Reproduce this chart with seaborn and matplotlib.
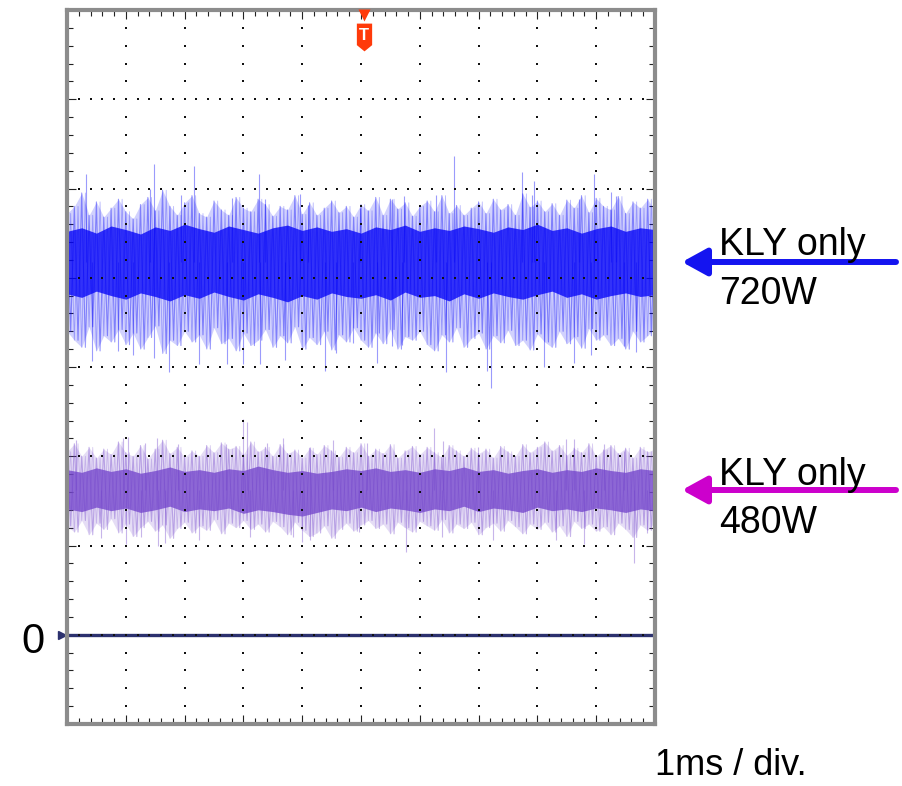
import numpy as np
import pandas as pd
import matplotlib
matplotlib.use("Agg")
import matplotlib.pyplot as plt
from matplotlib.ticker import MultipleLocator
from matplotlib.path import Path
import seaborn as sns

# ---- scope capture: 1 ms/div horizontally, levels in vertical divisions ----
sweep_ms = [0.0, 10.0]
zero_level = 0.0
trigger_ms = 5.05

# KLY only, 720 W trace: outer stroke extremes (81 samples across the sweep)
blue_top = [4.72, 4.80, 4.95, 4.70, 4.85, 4.68, 4.78, 4.88, 4.74,
            4.66, 4.82, 4.90, 4.75, 4.98, 4.80, 4.70, 4.84,
            4.92, 4.72, 4.68, 4.86, 4.76, 4.70, 4.90, 4.78,
            4.74, 4.88, 4.82, 4.69, 4.80, 4.76, 4.92, 4.71,
            4.84, 4.70, 4.78, 4.86, 4.73, 4.80, 4.68, 4.82,
            4.75, 4.90, 4.70, 4.88, 4.77, 4.84, 4.69, 4.80,
            4.86, 4.74, 4.92, 4.72, 4.81, 4.70, 4.78, 4.85,
            4.72, 4.88, 4.76, 4.82, 4.70, 4.94, 4.79, 4.86,
            4.74, 4.83, 4.70, 4.87, 4.78, 4.92, 4.73, 4.89,
            4.80, 4.76, 4.91, 4.72, 4.85, 4.78, 4.88, 4.74]
blue_bot = [3.40, 3.30, 3.22, 3.45, 3.18, 3.35, 3.28, 3.42, 3.25,
            3.38, 3.20, 3.33, 3.46, 3.15, 3.30, 3.24, 3.40,
            3.28, 3.36, 3.20, 3.44, 3.26, 3.32, 3.18, 3.38,
            3.24, 3.30, 3.42, 3.22, 3.35, 3.27, 3.45, 3.20,
            3.33, 3.25, 3.40, 3.19, 3.36, 3.28, 3.44, 3.30,
            3.22, 3.38, 3.26, 3.42, 3.20, 3.34, 3.30, 3.40,
            3.25, 3.18, 3.36, 3.28, 3.44, 3.22, 3.32, 3.38,
            3.20, 3.35, 3.27, 3.41, 3.24, 3.30, 3.19, 3.37,
            3.28, 3.22, 3.40, 3.26, 3.34, 3.21, 3.43, 3.30,
            3.36, 3.24, 3.32, 3.20, 3.40, 3.28, 3.35, 3.45]
# dense core of the 720 W trace (41 samples)
blue_core_top = [4.52, 4.56, 4.50, 4.58, 4.54, 4.49, 4.57, 4.53, 4.60, 4.55,
                 4.51, 4.58, 4.54, 4.50, 4.56, 4.59, 4.53, 4.57, 4.52, 4.55,
                 4.50, 4.57, 4.54, 4.59, 4.52, 4.56, 4.53, 4.58, 4.55, 4.51,
                 4.57, 4.54, 4.60, 4.53, 4.56, 4.50, 4.55, 4.58, 4.52, 4.56,
                 4.54]
blue_core_bot = [3.82, 3.78, 3.85, 3.80, 3.76, 3.83, 3.79, 3.74, 3.81, 3.77,
                 3.84, 3.79, 3.75, 3.82, 3.78, 3.73, 3.80, 3.76, 3.83, 3.79,
                 3.77, 3.81, 3.75, 3.84, 3.78, 3.80, 3.74, 3.82, 3.77, 3.83,
                 3.79, 3.76, 3.81, 3.85, 3.78, 3.82, 3.76, 3.80, 3.83, 3.79,
                 3.81]
blue_level = 4.18
# isolated tall spikes of the 720 W trace
blue_spike_t = [0.33, 1.42, 1.48, 1.94, 2.16, 2.81, 3.26, 3.37, 3.96, 4.10,
                4.98, 5.53, 5.73, 6.27, 6.59, 7.73, 7.90, 7.94, 8.71, 8.97,
                9.25, 9.33, 9.98,
                0.42, 0.87, 1.12, 1.48, 1.74, 2.25, 2.72, 2.99, 3.29, 3.71,
                4.39, 4.58, 4.86, 5.28, 5.53, 5.69, 6.45, 7.14, 7.21, 8.12,
                8.63, 8.91, 9.47, 9.67]
blue_spike_v = [5.16, 4.99, 5.28, 4.93, 5.25, 4.89, 5.16, 4.88, 4.94, 4.82,
                4.78, 4.88, 4.92, 4.93, 5.36, 5.19, 4.93, 5.08, 4.88, 5.16,
                4.96, 4.92, 4.78,
                3.07, 3.18, 3.14, 3.10, 2.94, 3.03, 3.03, 3.03, 3.03, 3.08,
                2.96, 3.16, 3.27, 3.05, 3.23, 3.25, 2.94, 2.96, 2.76, 3.00,
                3.04, 3.13, 3.23, 3.17]

# KLY only, 480 W trace
purple_top = [2.05, 2.14, 2.00, 2.10, 1.98, 2.08, 2.02, 2.16, 2.04,
              2.00, 2.12, 1.97, 2.08, 2.18, 2.03, 2.10, 1.99,
              2.06, 2.00, 2.12, 2.04, 2.15, 2.08, 2.11, 2.02,
              2.16, 2.05, 2.10, 2.00, 2.13, 2.03, 2.07, 1.98,
              2.09, 2.02, 2.12, 2.06, 1.99, 2.10, 2.04, 2.14,
              2.00, 2.08, 2.03, 2.13, 1.98, 2.06, 2.11, 2.02,
              2.10, 2.04, 1.99, 2.12, 2.06, 2.00, 2.09, 2.03,
              2.08, 1.98, 2.11, 2.05, 2.00, 2.13, 2.04, 2.10,
              2.16, 2.06, 2.12, 2.01, 2.09, 2.04, 2.14, 2.00,
              2.07, 2.12, 2.03, 2.09, 1.98, 2.10, 2.05, 2.08]
purple_bot = [1.22, 1.15, 1.28, 1.12, 1.25, 1.18, 1.30, 1.14, 1.24,
              1.10, 1.20, 1.27, 1.16, 1.23, 1.08, 1.19, 1.26,
              1.14, 1.22, 1.17, 1.29, 1.13, 1.25, 1.20, 1.28,
              1.18, 1.24, 1.15, 1.27, 1.21, 1.12, 1.26, 1.17,
              1.10, 1.14, 1.22, 1.08, 1.18, 1.25, 1.16, 1.23,
              1.28, 1.19, 1.24, 1.13, 1.26, 1.20, 1.15, 1.27,
              1.22, 1.17, 1.29, 1.14, 1.24, 1.19, 1.26, 1.12,
              1.20, 1.25, 1.16, 1.28, 1.21, 1.13, 1.24, 1.18,
              1.26, 1.15, 1.22, 1.10, 1.27, 1.19, 1.24, 1.16,
              1.21, 1.12, 1.25, 1.18, 1.09, 1.23, 1.17, 1.26]
purple_core_top = [1.85, 1.82, 1.87, 1.83, 1.86, 1.81, 1.84, 1.88, 1.83, 1.85,
                   1.82, 1.86, 1.84, 1.89, 1.85, 1.82, 1.84, 1.81, 1.83, 1.86,
                   1.84, 1.87, 1.83, 1.85, 1.82, 1.86, 1.84, 1.88, 1.83, 1.85,
                   1.81, 1.84, 1.86, 1.82, 1.85, 1.83, 1.87, 1.84, 1.82, 1.86,
                   1.84]
purple_core_bot = [1.41, 1.38, 1.43, 1.39, 1.42, 1.37, 1.40, 1.44, 1.38, 1.41,
                   1.39, 1.42, 1.36, 1.40, 1.38, 1.35, 1.33, 1.37, 1.41, 1.39,
                   1.43, 1.38, 1.42, 1.40, 1.37, 1.41, 1.39, 1.44, 1.38, 1.42,
                   1.40, 1.37, 1.43, 1.39, 1.41, 1.38, 1.42, 1.40, 1.37, 1.41,
                   1.39]
purple_level = 1.62
purple_spike_t = [0.16, 0.95, 1.03, 1.32, 1.53, 1.88, 2.70, 3.00, 3.06, 3.40,
                  3.68, 4.13, 4.53, 5.11, 6.25, 6.40, 6.99, 8.49, 8.63, 9.14,
                  9.47,
                  0.57, 1.00, 1.26, 1.54, 1.66, 2.25, 3.12, 3.85, 3.99, 4.13,
                  4.97, 5.76, 6.38, 7.25, 8.32, 8.80, 9.64, 9.87]
purple_spike_v = [2.18, 2.20, 2.22, 2.15, 2.21, 2.14, 2.14, 2.42, 2.38, 2.15,
                  2.20, 2.10, 2.18, 2.15, 2.32, 2.17, 2.10, 2.19, 2.19, 2.14,
                  2.06,
                  1.08, 1.02, 1.10, 1.00, 1.03, 1.06, 1.10, 1.10, 1.04, 1.06,
                  1.15, 0.93, 1.10, 1.06, 1.06, 1.02, 0.80, 1.14]

labels = [("KLY only", "720W"), ("KLY only", "480W")]
time_label = "1ms / div."
zero_label = "0"

BLUE = "#0505F8"
PURPLE = "#7446CC"
BLUE_ARROW = "#1414F0"
MAGENTA_ARROW = "#CC00CC"
NAVY = "#2C316E"
TRIG = "#FF3A0A"

sns.set_style("white")
plt.rcParams["font.family"] = ["Liberation Sans", "DejaVu Sans"]
plt.rcParams["text.color"] = "black"

W, H = 902, 786
fig = plt.figure(figsize=(W / 100, H / 100), dpi=100)
ax = fig.add_axes([67 / W, 62 / H, 588 / W, 714 / H])
ax.set_xlim(0, 10)
ax.set_ylim(-1, 7)


def zigzag(t, hi, lo):
    """Alternate between the upper and lower extremes, half a sample apart."""
    t = np.asarray(t)
    step = (t[1] - t[0]) / 2
    xs = np.empty(2 * len(t))
    ys = np.empty(2 * len(t))
    xs[0::2], xs[1::2] = t, np.minimum(t + step, sweep_ms[1])
    ys[0::2], ys[1::2] = hi, lo
    return xs, ys


def draw_trace(top, bot, core_top, core_bot, spike_t, spike_v, level, color):
    t_out = np.linspace(sweep_ms[0], sweep_ms[1], len(top))
    t_core = np.linspace(sweep_ms[0], sweep_ms[1], len(core_top))
    # faint halo of the full noise excursion
    ax.fill_between(t_out, bot, top, color=color, alpha=0.18, lw=0, zorder=2)
    xs, ys = zigzag(t_out, top, bot)
    ax.plot(xs, ys, color=color, alpha=0.40, lw=0.8, zorder=2)
    xs, ys = zigzag(t_out, bot, top)
    ax.plot(xs, ys, color=color, alpha=0.28, lw=0.6, zorder=2)
    # dense core
    ax.fill_between(t_core, core_bot, core_top, color=color, alpha=0.78,
                    lw=0, zorder=3)
    # isolated tall spikes
    ax.vlines(spike_t, level, spike_v, color=color, alpha=0.4, lw=0.8,
              zorder=2)


draw_trace(blue_top, blue_bot, blue_core_top, blue_core_bot,
           blue_spike_t, blue_spike_v, blue_level, BLUE)
draw_trace(purple_top, purple_bot, purple_core_top, purple_core_bot,
           purple_spike_t, purple_spike_v, purple_level, PURPLE)

# zero-level reference trace
zero_df = pd.DataFrame({"t": sweep_ms, "v": [zero_level, zero_level]})
sns.lineplot(data=zero_df, x="t", y="v", ax=ax, color=NAVY, linewidth=2.4,
             zorder=4)
ax.plot(-0.085, zero_level, marker=">", ms=6, color=NAVY, clip_on=False,
        zorder=6)
ax.set_xlabel("")
ax.set_ylabel("")

# graticule: dotted division lines
minor_x = np.arange(0, 10.001, 0.2)
minor_y = np.arange(-1, 7.001, 0.2)
for gx in range(1, 10):
    ax.scatter(np.full_like(minor_y, gx), minor_y, s=2.0, marker="s",
               color="#111111", lw=0, zorder=5)
for gy in range(0, 7):
    ax.scatter(minor_x, np.full_like(minor_x, gy), s=2.0, marker="s",
               color="#111111", lw=0, zorder=5)

ax.xaxis.set_major_locator(MultipleLocator(1))
ax.yaxis.set_major_locator(MultipleLocator(1))
ax.xaxis.set_minor_locator(MultipleLocator(0.2))
ax.yaxis.set_minor_locator(MultipleLocator(0.2))
ax.tick_params(which="both", direction="in", top=True, right=True,
               bottom=True, left=True, labelbottom=False, labelleft=False,
               color="#222222", width=0.8)
ax.tick_params(which="major", length=6.5)
ax.tick_params(which="minor", length=4.5)
for sp in ax.spines.values():
    sp.set_color("#8c8c8c")
    sp.set_linewidth(3)
    sp.set_visible(True)
    sp.set_zorder(7)

# trigger marker
ax.plot(trigger_ms, 6.94, marker="v", ms=8.5, color=TRIG, clip_on=False,
        zorder=8, mec="none")
shield = Path([(-0.55, 1.0), (0.55, 1.0), (0.55, -0.55), (0.0, -1.0),
               (-0.55, -0.55), (-0.55, 1.0)],
              [Path.MOVETO, Path.LINETO, Path.LINETO, Path.LINETO,
               Path.LINETO, Path.CLOSEPOLY])
ax.plot(trigger_ms, 6.70, marker=shield, ms=20, color=TRIG, mec="none",
        clip_on=False, zorder=8)
ax.text(trigger_ms, 6.71, "T", color="white", fontsize=12, fontweight="bold",
        ha="center", va="center", zorder=9)

# annotations outside the graticule
fs = 27
fig.text(719 / W, 1 - 255 / H, labels[0][0], fontsize=fs, va="baseline",
         ha="left", color="black")
fig.text(719 / W, 1 - 304 / H, labels[0][1], fontsize=fs, va="baseline",
         ha="left", color="black")
fig.text(719 / W, 1 - 485 / H, labels[1][0], fontsize=fs, va="baseline",
         ha="left", color="black")
fig.text(719 / W, 1 - 533 / H, labels[1][1], fontsize=fs, va="baseline",
         ha="left", color="black")
fig.text(33 / W, 1 - 642 / H, zero_label, fontsize=30, va="center",
         ha="center", color="black")
fig.text(655 / W, 1 - 775 / H, time_label, fontsize=26, va="baseline",
         ha="left", color="black")

for y_px, col in [(262, BLUE_ARROW), (490, MAGENTA_ARROW)]:
    ax.annotate("", xy=(682, H - y_px), xytext=(896, H - y_px),
                xycoords="figure pixels", textcoords="figure pixels",
                arrowprops=dict(arrowstyle="-|>,head_length=1.0,head_width=0.55",
                                mutation_scale=15, lw=4.3, color=col,
                                shrinkA=0, shrinkB=0),
                annotation_clip=False)

fig.savefig("out.png", dpi=100)
